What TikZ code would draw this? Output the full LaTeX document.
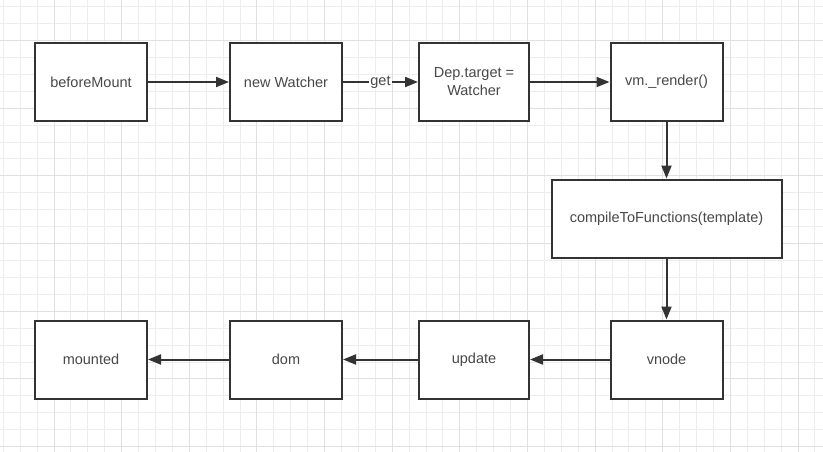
\documentclass[tikz,border=0pt]{standalone}
\usepackage{fontspec}
\setmainfont{Liberation Sans}
\usetikzlibrary{arrows.meta}
\definecolor{gridminor}{HTML}{EDEDED}
\definecolor{gridmajor}{HTML}{E0E0E0}
\definecolor{linegray}{HTML}{333333}
\definecolor{textgray}{HTML}{484848}
\begin{document}
\begin{tikzpicture}[
    x=1pt, y=-1pt,
    box/.style={rectangle, draw=linegray, line width=2pt, fill=white, minimum width=112pt, minimum height=78pt, align=center, font=\fontsize{14.5}{18}\selectfont, text=textgray, inner sep=2pt},
    arrow/.style={-{Triangle[length=13pt, width=10pt]}, line width=2pt, draw=linegray},
    lbl/.style={fill=white, font=\fontsize{14.5}{18}\selectfont, text=textgray, inner sep=1pt}
]
\useasboundingbox[fill=white] (0,0) rectangle (823,452);

% Grid
\foreach \i in {0,...,48} \draw[gridminor, line width=1pt] ({3.3+16.91*\i},0) -- ({3.3+16.91*\i},452);
\foreach \j in {0,...,26} \draw[gridminor, line width=1pt] (0,{6.7+16.92*\j}) -- (823,{6.7+16.92*\j});
\foreach \i in {3,7,...,47} \draw[gridmajor, line width=1pt] ({3.3+16.91*\i},0) -- ({3.3+16.91*\i},452);
\foreach \j in {2,6,...,26} \draw[gridmajor, line width=1pt] (0,{6.7+16.92*\j}) -- (823,{6.7+16.92*\j});

% Top row (y = 82)
\node[box] (beforemount) at (91, 82) {beforeMount};
\node[box] (watcher) at (286, 82) {new Watcher};
\node[box, minimum width=110pt] (deptarget) at (474, 82) {Dep.target =\\Watcher};
\node[box] (render) at (666.5, 82) {vm.\_render()};

% Middle (y = 218.5)
\node[box, minimum width=230pt] (compile) at (666.5, 218.5) {compileToFunctions(template)};

% Bottom row (y = 359.5)
\node[box] (mounted) at (91, 359.5) {mounted};
\node[box] (dom) at (286, 359.5) {dom};
\node[box, minimum width=110pt] (update) at (474, 359.5) {update};
\node[box] (vnode) at (666.5, 359.5) {vnode};

% Connections
\draw[arrow] (beforemount) -- (watcher);
\draw[arrow] (watcher) -- node[lbl] {get} (deptarget);
\draw[arrow] (deptarget) -- (render);
\draw[arrow] (render) -- (compile);
\draw[arrow] (compile) -- (vnode);
\draw[arrow] (vnode) -- (update);
\draw[arrow] (update) -- (dom);
\draw[arrow] (dom) -- (mounted);

\end{tikzpicture}
\end{document}
